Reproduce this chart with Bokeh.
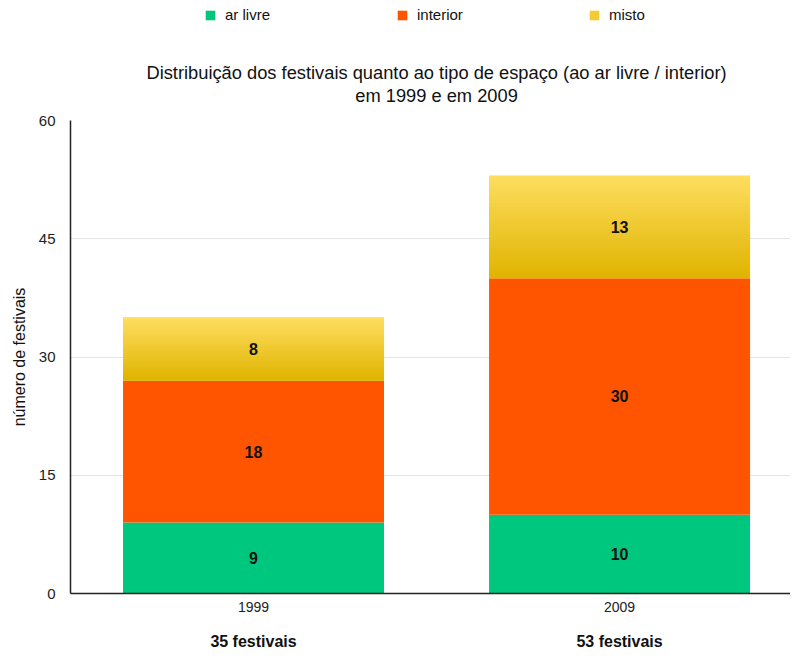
import numpy as np
from bokeh.plotting import figure
from bokeh.layouts import column
from bokeh.models import (Range1d, FixedTicker, LinearAxis, Legend, LegendItem)
from bokeh.embed import file_html
from bokeh.resources import INLINE
from bokeh.core.properties import value

# ---------------- data ----------------
years = ["1999", "2009"]
ar_livre = [9, 10]
interior = [18, 30]
misto = [8, 13]
series_names = ["ar livre", "interior", "misto"]
y_ticks = [0, 15, 30, 45, 60]
title_lines = ["Distribuição dos festivais quanto ao tipo de espaço (ao ar livre / interior)",
               "em 1999 e em 2009"]
y_label = "número de festivais"
total_suffix = " festivais"

# ---------------- styles / layout ----------------
FONT = "Liberation Sans"
GREEN = "#00c77e"
ORANGE = "#ff5500"
YELLOW_TOP = (254, 222, 96)
YELLOW_BOT = (224, 180, 0)
YELLOW_MID = "#f2cb35"
TEXT = "#111111"
BAR_W = 0.713
W = 790
HEAD_H = 110
MAIN_H = 542
LEFT = 70

xs = [i + 0.5 for i in range(len(years))]
totals = [a + b + c for a, b, c in zip(ar_livre, interior, misto)]
bottom_int = list(ar_livre)
bottom_mix = [a + b for a, b in zip(ar_livre, interior)]
top_int = [b + v for b, v in zip(bottom_int, interior)]
series = [ar_livre, interior, misto]

x_range = Range1d(0, 1.967)

# ---------------- header: legend + title ----------------
head = figure(width=W, height=HEAD_H, x_range=x_range, y_range=Range1d(HEAD_H, 0),
              output_backend="svg", toolbar_location=None,
              min_border=0, min_border_left=LEFT, min_border_right=0,
              min_border_top=0, min_border_bottom=0)
head.axis.visible = False
head.grid.visible = False
head.outline_line_color = None
head.title = None
# zero-width bars: only used to give the legend its swatches
hr = [head.vbar(x=xs, bottom=0, top=s, width=0, fill_color=c, line_color=None)
      for s, c in zip(series, (GREEN, ORANGE, YELLOW_MID))]
legend = Legend(items=[LegendItem(label=n, renderers=[r]) for n, r in zip(series_names, hr)],
                orientation="horizontal", location=(134, HEAD_H - 23),
                glyph_width=12, glyph_height=12, label_standoff=9, label_width=55,
                spacing=116, padding=2, margin=0, border_line_color=None,
                background_fill_alpha=0, label_text_font=FONT, label_height=15,
                label_text_font_size="15px", label_text_color=TEXT)
head.add_layout(legend, "center")
title_x = len(years) / 2
head.text(x=[title_x, title_x], y=[72, 95], text=title_lines, text_align="center",
          text_baseline="middle", text_font=value(FONT), text_font_size="18.3px",
          text_color=TEXT)

# ---------------- main chart ----------------
p = figure(width=W, height=MAIN_H, x_range=x_range, y_range=Range1d(0, 60),
           output_backend="svg", toolbar_location=None,
           min_border_left=LEFT, min_border_right=0, min_border_bottom=58, min_border_top=10)
p.title = None
p.outline_line_color = None

r_ar = p.vbar(x=xs, bottom=0, top=ar_livre, width=BAR_W, fill_color=GREEN, line_color=None)
r_it = p.vbar(x=xs, bottom=bottom_int, top=top_int, width=BAR_W,
              fill_color=ORANGE, line_color=None)
r_mx = p.vbar(x=xs, bottom=bottom_mix, top=totals, width=BAR_W,
              fill_color=YELLOW_MID, line_color=None)

# gradient overlay for "misto"
N = 64
img = np.empty((N, 1), dtype=np.uint32)
view = img.view(dtype=np.uint8).reshape((N, 1, 4))
for i in range(N):
    t = i / (N - 1)
    for c in range(3):
        view[i, 0, c] = int(round(YELLOW_BOT[c] + (YELLOW_TOP[c] - YELLOW_BOT[c]) * t))
    view[i, 0, 3] = 255
p.image_rgba(image=[img] * len(years), x=[x - BAR_W / 2 for x in xs], y=bottom_mix,
             dw=[BAR_W] * len(years), dh=misto)

# value labels
lab_x, lab_y, lab_t = [], [], []
for i in range(len(years)):
    for b, v in ((0, ar_livre[i]), (bottom_int[i], interior[i]), (bottom_mix[i], misto[i])):
        lab_x.append(xs[i]); lab_y.append(b + v / 2); lab_t.append(str(v))
p.text(x=lab_x, y=lab_y, text=lab_t, text_align="center", text_baseline="middle",
       text_font=value(FONT), text_font_style="bold", text_font_size="16px", text_color=TEXT)

# axes
p.yaxis.ticker = FixedTicker(ticks=y_ticks)
p.ygrid.ticker = FixedTicker(ticks=y_ticks)
p.xgrid.visible = False
p.ygrid.grid_line_color = "#e4e4e4"
p.ygrid.grid_line_width = 1
for ax in (p.xaxis[0], p.yaxis[0]):
    ax.axis_line_color = "#222222"
    ax.axis_line_width = 1.5
    ax.major_tick_line_color = None
    ax.minor_tick_line_color = None
    ax.major_tick_out = 0
    ax.major_tick_in = 0
    ax.minor_tick_out = 0
    ax.major_label_text_font = FONT
    ax.major_label_text_color = "#222222"
p.yaxis.major_label_text_font_size = "15px"
p.yaxis.major_label_standoff = 15
p.yaxis.axis_label = y_label
p.yaxis.axis_label_text_font = FONT
p.yaxis.axis_label_text_font_size = "16px"
p.yaxis.axis_label_text_font_style = "normal"
p.yaxis.axis_label_text_color = TEXT
p.yaxis.axis_label_standoff = 8

p.xaxis.ticker = FixedTicker(ticks=xs)
p.xaxis.major_label_overrides = {x: y for x, y in zip(xs, years)}
p.xaxis.major_label_text_font_size = "14px"
p.xaxis.major_label_standoff = 8

ax2 = LinearAxis(ticker=FixedTicker(ticks=xs),
                 major_label_overrides={x: f"{t}{total_suffix}" for x, t in zip(xs, totals)})
ax2.axis_line_color = None
ax2.major_tick_line_color = None
ax2.minor_tick_line_color = None
ax2.major_tick_out = 0
ax2.major_tick_in = 0
ax2.minor_tick_out = 0
ax2.major_label_standoff = 18
ax2.major_label_text_font = FONT
ax2.major_label_text_font_size = "16px"
ax2.major_label_text_font_style = "bold"
ax2.major_label_text_color = TEXT
p.add_layout(ax2, "below")

layout = column(head, p, spacing=0)
open("out.html", "w").write(file_html(layout, INLINE))
